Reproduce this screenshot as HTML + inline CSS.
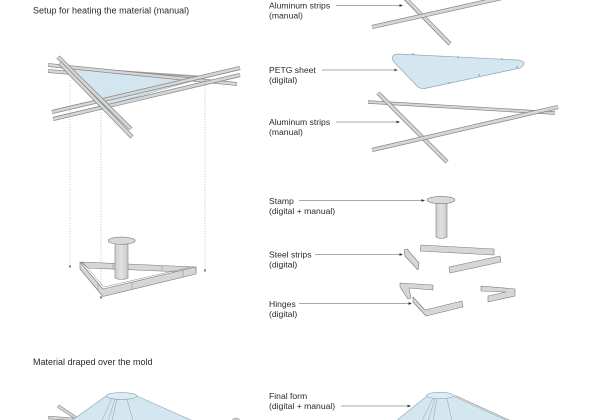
<!DOCTYPE html>
<html><head><meta charset="utf-8"><style>
html,body{margin:0;padding:0;background:#fff;}
svg{display:block;}
text{font-family:"Liberation Sans",Arial,sans-serif;fill:#2a2a2a;}
.t{font-size:9px;}
.l{font-size:8.6px;}
.ld{stroke:#555;stroke-width:0.6;fill:none;}
.ah{fill:#333;}
.dot{stroke:#9a9a9a;stroke-width:0.6;stroke-dasharray:1 1.6;fill:none;}
.so{stroke:#858585;stroke-linecap:butt;fill:none;}
.si{stroke:#d6d6d6;stroke-linecap:butt;fill:none;}
.gp{fill:#d6d6d6;stroke:#777;stroke-width:0.6;stroke-linejoin:round;}
.fold{stroke:#8aa3b0;stroke-width:0.5;fill:none;}
</style></head><body>
<svg width="600" height="420" viewBox="0 0 600 420" xmlns="http://www.w3.org/2000/svg">
<defs>
<linearGradient id="cyl" x1="0" x2="1" y1="0" y2="0">
<stop offset="0" stop-color="#cfcfcf"/><stop offset="0.5" stop-color="#e2e2e2"/><stop offset="1" stop-color="#c8c8c8"/>
</linearGradient>
</defs>
<rect width="600" height="420" fill="#fff"/>

<!-- Titles -->
<text class="t" x="33" y="13.5">Setup for heating the material (manual)</text>
<text class="t" x="33" y="365">Material draped over the mold</text>

<!-- Labels -->
<text class="l" x="269" y="8.5">Aluminum strips</text>
<text class="l" x="269" y="18.5">(manual)</text>
<text class="l" x="269" y="73">PETG sheet</text>
<text class="l" x="269" y="83">(digital)</text>
<text class="l" x="269" y="125">Aluminum strips</text>
<text class="l" x="269" y="135">(manual)</text>
<text class="l" x="269" y="204">Stamp</text>
<text class="l" x="269" y="214">(digital + manual)</text>
<text class="l" x="269" y="257.5">Steel strips</text>
<text class="l" x="269" y="267.5">(digital)</text>
<text class="l" x="269" y="307">Hinges</text>
<text class="l" x="269" y="317">(digital)</text>
<text class="l" x="269" y="399">Final form</text>
<text class="l" x="269" y="409">(digital + manual)</text>

<!-- Leader lines -->
<line class="ld" x1="336" y1="5.5" x2="400" y2="5.5"/><polygon class="ah" points="403,5.5 399.5,4.1 399.5,6.9"/>
<line class="ld" x1="322" y1="70" x2="395" y2="70"/><polygon class="ah" points="398,70 394.5,68.6 394.5,71.4"/>
<line class="ld" x1="336" y1="122" x2="397" y2="122"/><polygon class="ah" points="400,122 396.5,120.6 396.5,123.4"/>
<line class="ld" x1="299" y1="200.5" x2="422" y2="200.5"/><polygon class="ah" points="425,200.5 421.5,199.1 421.5,201.9"/>
<line class="ld" x1="315" y1="254.5" x2="400" y2="254.5"/><polygon class="ah" points="403,254.5 399.5,253.1 399.5,255.9"/>
<line class="ld" x1="299" y1="303.5" x2="409" y2="303.5"/><polygon class="ah" points="412,303.5 408.5,302.1 408.5,304.9"/>
<line class="ld" x1="341" y1="406" x2="408" y2="406"/><polygon class="ah" points="411,406 407.5,404.6 407.5,407.4"/>

<!-- ===== Top-left assembly ===== -->
<polygon points="72,68 207,77 100,107" fill="#d3e6f0" stroke="#9bb6c4" stroke-width="0.6"/>
<line x1="73" y1="68" x2="207" y2="77" stroke="#a0a0a0" stroke-width="1.8"/>
<!-- C strips -->
<line class="so" x1="48" y1="65" x2="237" y2="84" stroke-width="3.8"/><line class="si" x1="48.3" y1="65" x2="236.7" y2="84" stroke-width="2.4"/>
<line class="so" x1="48" y1="71" x2="72" y2="73" stroke-width="3.8"/><line class="si" x1="48.3" y1="71" x2="72" y2="73" stroke-width="2.4"/>
<!-- B strips -->
<line class="so" x1="52" y1="112" x2="240" y2="68" stroke-width="4"/><line class="si" x1="52.3" y1="112" x2="239.7" y2="68" stroke-width="2.6"/>
<line class="so" x1="53" y1="119" x2="240" y2="75" stroke-width="4"/><line class="si" x1="53.3" y1="119" x2="239.7" y2="75" stroke-width="2.6"/>
<!-- A strips -->
<line class="so" x1="58" y1="57" x2="131" y2="129" stroke-width="4.2"/><line class="si" x1="58.3" y1="57.3" x2="130.7" y2="128.7" stroke-width="2.8"/>
<line class="so" x1="60" y1="63" x2="132" y2="137" stroke-width="4.2"/><line class="si" x1="60.3" y1="63.3" x2="131.7" y2="136.7" stroke-width="2.8"/>

<!-- dotted projection lines -->
<line class="dot" x1="70" y1="80" x2="70" y2="265"/><polygon points="70,268.5 68.9,265.5 71.1,265.5" fill="#555"/>
<line class="dot" x1="101" y1="107" x2="101" y2="296"/><polygon points="101,299.5 99.9,296.5 102.1,296.5" fill="#555"/>
<line class="dot" x1="205" y1="80" x2="205" y2="269"/><polygon points="205,272.5 203.9,269.5 206.1,269.5" fill="#555"/>

<!-- ===== Left mold ===== -->
<polygon class="gp" points="81,262 196,267 196,272.5 88,268"/>
<line x1="113" y1="264" x2="113" y2="269.5" stroke="#888" stroke-width="0.5"/>
<line x1="162" y1="266" x2="162" y2="271.5" stroke="#888" stroke-width="0.5"/>
<!-- stamp -->
<path d="M115,241 L115,278 Q121.5,281 128,278 L128,241 Z" fill="url(#cyl)" stroke="#7c7c7c" stroke-width="0.6"/>
<ellipse cx="121.7" cy="240.7" rx="13.5" ry="3.6" fill="#d8d8d8" stroke="#7c7c7c" stroke-width="0.6"/>
<!-- front walls -->
<polygon class="gp" points="80,262 103,289 196,267 196,274 103,296.5 80,269"/>
<polyline points="83,262.5 104,287 193,266.5" fill="none" stroke="#888" stroke-width="0.5"/>
<line x1="98" y1="283" x2="98" y2="290" stroke="#888" stroke-width="0.5"/>
<line x1="132" y1="282.5" x2="132" y2="289.5" stroke="#888" stroke-width="0.5"/>
<line x1="183" y1="270" x2="183" y2="277" stroke="#888" stroke-width="0.5"/>

<!-- ===== Top-right strips ===== -->
<line class="so" x1="404" y1="-3" x2="450" y2="44" stroke-width="4.2"/><line class="si" x1="404.3" y1="-3" x2="449.7" y2="43.7" stroke-width="2.8"/>
<line class="so" x1="372" y1="27" x2="506" y2="-3" stroke-width="4.2"/><line class="si" x1="372.3" y1="27" x2="506" y2="-3" stroke-width="2.8"/>

<!-- PETG sheet -->
<path d="M398,54 L518,60 Q529,62 520,68 L427,88 Q420,90 416,85 L394,62 Q389,55 398,54 Z" fill="#d4e6f0" stroke="#8fa7b4" stroke-width="0.7"/>
<g fill="#7d8f99">
<circle cx="413" cy="54" r="0.8"/><circle cx="458" cy="57" r="0.8"/><circle cx="502" cy="59" r="0.8"/>
<circle cx="517" cy="67" r="0.8"/><circle cx="479" cy="75" r="0.8"/><circle cx="449" cy="83" r="0.8"/>
<circle cx="396" cy="70" r="0.8"/>
</g>

<!-- bottom-right aluminum strips -->
<line class="so" x1="368" y1="102" x2="555" y2="113" stroke-width="3.4"/><line class="si" x1="368.3" y1="102" x2="554.7" y2="113" stroke-width="2.1"/>
<line class="so" x1="378" y1="93" x2="447" y2="162" stroke-width="4.2"/><line class="si" x1="378.3" y1="93.3" x2="446.7" y2="161.7" stroke-width="2.8"/>
<line class="so" x1="372" y1="150" x2="558" y2="107" stroke-width="4.2"/><line class="si" x1="372.3" y1="150" x2="557.7" y2="107" stroke-width="2.8"/>

<!-- right stamp -->
<path d="M436,200 L436,237 Q441.5,240 447,237 L447,200 Z" fill="url(#cyl)" stroke="#7c7c7c" stroke-width="0.6"/>
<ellipse cx="441" cy="200" rx="14" ry="3.6" fill="#d8d8d8" stroke="#7c7c7c" stroke-width="0.6"/>

<!-- steel strips -->
<polygon class="gp" points="421,245 494,249 494,255 420,251"/>
<polygon class="gp" points="449,267 500,256 501,262 450,273"/>
<polygon class="gp" points="404,250 407,249 419,263 418,270 405,256"/>

<!-- hinges -->
<polygon class="gp" points="400,283 433,285 433,290 409,288 411,298 408,299 400,287"/>
<polygon class="gp" points="413,297 425,310 462,301 463,307 426,316 413,302"/>
<polygon class="gp" points="481,286 515,289 515,296 488,302 488,296 506,292 481,291"/>

<!-- ===== Bottom cones ===== -->
<line class="so" x1="58" y1="406" x2="76" y2="418" stroke-width="3.4"/><line class="si" x1="58.3" y1="406.2" x2="76" y2="418" stroke-width="2.1"/>
<line class="so" x1="48" y1="417.5" x2="76" y2="419.5" stroke-width="3.2"/><line class="si" x1="48.3" y1="417.5" x2="76" y2="419.5" stroke-width="1.9"/>
<polygon points="106,396 71,421 193,421 137,396" fill="#d4e6f0" stroke="#8aa3b0" stroke-width="0.6"/>
<ellipse cx="121.5" cy="396" rx="15.5" ry="3.4" fill="#dcecf4" stroke="#8aa3b0" stroke-width="0.6"/>
<line class="fold" x1="111.5" y1="399" x2="101.5" y2="421"/>
<line class="fold" x1="115" y1="399.3" x2="108" y2="421"/>
<line class="fold" x1="117" y1="399.4" x2="112" y2="421"/>
<line class="fold" x1="127" y1="399.3" x2="133" y2="421"/>
<ellipse cx="236" cy="421" rx="4" ry="3" fill="#cfcfcf" stroke="#8a8a8a" stroke-width="0.5"/>

<polygon points="427,396 396,421 508,421 453,396" fill="#d4e6f0" stroke="#8aa3b0" stroke-width="0.6"/>
<line x1="455" y1="395.5" x2="511" y2="421" stroke="#9a9a9a" stroke-width="0.8"/>
<ellipse cx="440" cy="395.5" rx="13.5" ry="3.2" fill="#dcecf4" stroke="#8aa3b0" stroke-width="0.6"/>
<line class="fold" x1="433" y1="398.3" x2="422" y2="421"/>
<line class="fold" x1="435" y1="398.5" x2="428" y2="421"/>
<line class="fold" x1="437" y1="398.6" x2="433" y2="421"/>
<line class="fold" x1="447" y1="398.5" x2="452" y2="421"/>
</svg>
</body></html>
